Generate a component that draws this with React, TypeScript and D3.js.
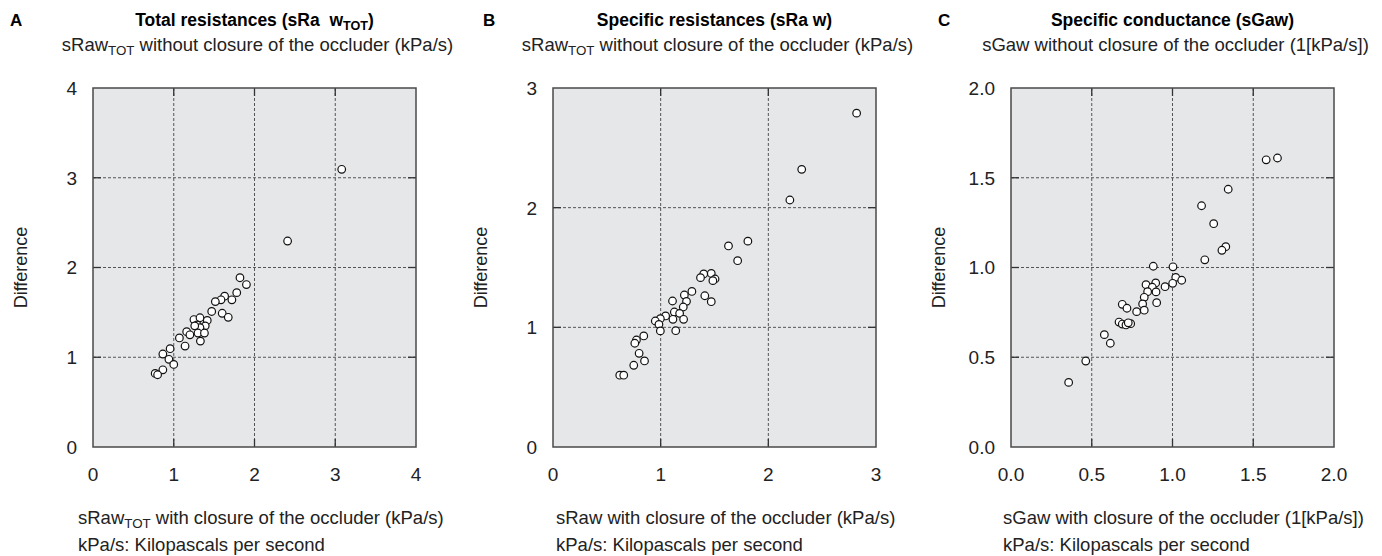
import React from 'react';
import * as d3 from 'd3';

// panel geometry
const TOP = 88;
const W = 323;
const H = 359;
const FONT = '"Liberation Sans", Arial, Helvetica, sans-serif';

// A: total resistances, [x, y]
const totalX = [1.82, 1.90, 1.78, 1.63, 1.585, 1.72, 1.515, 1.47, 1.60, 1.675, 1.25, 1.325, 1.415, 1.29, 1.39, 1.325, 1.26, 1.16, 1.20, 1.30, 1.38, 1.07, 1.33, 1.14, 0.955, 0.865, 0.94, 1.00, 0.865, 0.77, 0.80, 2.41, 3.08];
const totalY = [1.886, 1.81, 1.72, 1.68, 1.64, 1.64, 1.62, 1.51, 1.49, 1.445, 1.42, 1.44, 1.41, 1.36, 1.35, 1.33, 1.35, 1.285, 1.25, 1.27, 1.27, 1.215, 1.18, 1.125, 1.095, 1.036, 0.977, 0.92, 0.86, 0.82, 0.805, 2.295, 3.094];

// B: specific resistances
const specX = [1.81, 1.63, 1.715, 1.47, 1.40, 1.37, 1.505, 1.485, 1.29, 1.22, 1.41, 1.24, 1.11, 1.47, 1.21, 1.127, 1.176, 1.046, 0.997, 0.95, 1.114, 1.213, 0.984, 0.997, 1.14, 0.843, 0.775, 0.76, 0.80, 0.85, 0.75, 0.62, 0.657, 2.20, 2.31, 2.82];
const specY = [1.72, 1.68, 1.557, 1.45, 1.446, 1.415, 1.404, 1.39, 1.30, 1.27, 1.264, 1.217, 1.22, 1.214, 1.17, 1.128, 1.117, 1.095, 1.072, 1.053, 1.067, 1.067, 1.025, 0.97, 0.972, 0.928, 0.894, 0.867, 0.783, 0.719, 0.683, 0.60, 0.60, 2.064, 2.32, 2.79];

// C: specific conductance
const condX = [1.345, 1.18, 1.255, 1.33, 1.306, 1.20, 0.881, 1.003, 1.02, 1.057, 1.001, 0.954, 0.836, 0.896, 0.875, 0.846, 0.898, 0.825, 0.815, 0.902, 0.689, 0.718, 0.778, 0.825, 0.669, 0.689, 0.712, 0.741, 0.726, 0.578, 0.615, 0.463, 0.357, 1.58, 1.65];
const condY = [1.436, 1.344, 1.244, 1.116, 1.096, 1.043, 1.007, 1.004, 0.945, 0.929, 0.912, 0.893, 0.904, 0.914, 0.89, 0.865, 0.864, 0.834, 0.797, 0.804, 0.795, 0.773, 0.754, 0.762, 0.696, 0.685, 0.68, 0.687, 0.692, 0.626, 0.578, 0.479, 0.36, 1.60, 1.61];

const ticksA = [0, 1, 2, 3, 4];
const ticksB = [0, 1, 2, 3];
const ticksC = [0, 0.5, 1, 1.5, 2];

interface PanelProps {
  left: number;
  letter: string;
  letterX: number;
  title: React.ReactNode;
  subtitle: React.ReactNode;
  xlabel: React.ReactNode;
  xlabelX: number;
  xs: number[];
  ys: number[];
  ticks: number[];
  fmt: (v: number) => string;
}

function Panel({ left, letter, letterX, title, subtitle, xlabel, xlabelX, xs, ys, ticks, fmt }: PanelProps) {
  const max = ticks[ticks.length - 1];
  const x = d3.scaleLinear().domain([0, max]).range([left, left + W]);
  const y = d3.scaleLinear().domain([0, max]).range([TOP + H, TOP]);
  const inner = ticks.slice(1, -1);
  const cx = left + W / 2;
  const tk = 8;

  return (
    <g fontFamily={FONT}>
      <text x={letterX} y={26} fontSize={17} fontWeight="bold">{letter}</text>
      <text x={cx} y={26} fontSize={17.5} fontWeight="bold" textAnchor="middle">{title}</text>
      <text x={cx + 3} y={51} fontSize={18.5} textAnchor="middle" fill="#222">{subtitle}</text>

      <rect x={left} y={TOP} width={W} height={H} fill="#e6e7e8" />
      {inner.map((t) => (
        <g key={`g${t}`} stroke="#555" strokeWidth={1} strokeDasharray="3,2">
          <line x1={x(t)} x2={x(t)} y1={TOP} y2={TOP + H} />
          <line x1={left} x2={left + W} y1={y(t)} y2={y(t)} />
        </g>
      ))}
      {inner.map((t) => (
        <g key={`t${t}`} stroke="#333" strokeWidth={1.3}>
          <line x1={x(t)} x2={x(t)} y1={TOP} y2={TOP + tk} />
          <line x1={x(t)} x2={x(t)} y1={TOP + H} y2={TOP + H - tk} />
          <line x1={left} x2={left + tk} y1={y(t)} y2={y(t)} />
          <line x1={left + W} x2={left + W - tk} y1={y(t)} y2={y(t)} />
        </g>
      ))}
      <rect x={left} y={TOP} width={W} height={H} fill="none" stroke="#4a4a4a" strokeWidth={1.5} />

      {xs.map((v, i) => (
        <circle key={i} cx={x(v)} cy={y(ys[i])} r={3.8} fill="#fff" stroke="#111" strokeWidth={1.2} />
      ))}

      {ticks.map((t) => (
        <text key={`xl${t}`} x={x(t)} y={481} fontSize={19} textAnchor="middle" fill="#222">{fmt(t)}</text>
      ))}
      {ticks.map((t) => (
        <text key={`yl${t}`} x={left - 16} y={y(t)} dy="0.36em" fontSize={19} textAnchor="end" fill="#222">{fmt(t)}</text>
      ))}
      <text transform={`translate(${left - 66},${TOP + H / 2}) rotate(-90)`} fontSize={18} textAnchor="middle" fill="#222">Difference</text>

      <text x={xlabelX} y={524} fontSize={18.5} fill="#222">{xlabel}</text>
      <text x={xlabelX} y={551} fontSize={18.5} fill="#222">kPa/s: Kilopascals per second</text>
    </g>
  );
}

const sub = (s: string) => <tspan fontSize="0.72em" dy={4}>{s}</tspan>;
const rest = (s: string) => <tspan dy={-4}>{s}</tspan>;

export default function App() {
  const intFmt = d3.format('d');
  const decFmt = d3.format('.1f');
  return (
    <svg width={1382} height={556} style={{ position: 'absolute', left: 0, top: 0, background: '#fff' }}>
      <Panel
        left={93}
        letter="A"
        letterX={10}
        title={<>Total resistances (sRa{'\u00a0 '}w{sub('TOT')}{rest(')')}</>}
        subtitle={<>sRaw{sub('TOT')}{rest(' without closure of the occluder (kPa/s)')}</>}
        xlabel={<>sRaw{sub('TOT')}{rest(' with closure of the occluder (kPa/s)')}</>}
        xlabelX={78}
        xs={totalX}
        ys={totalY}
        ticks={ticksA}
        fmt={intFmt}
      />
      <Panel
        left={553}
        letter="B"
        letterX={483}
        title={<>Specific resistances (sRa w)</>}
        subtitle={<>sRaw{sub('TOT')}{rest(' without closure of the occluder (kPa/s)')}</>}
        xlabel={<>sRaw with closure of the occluder (kPa/s)</>}
        xlabelX={556}
        xs={specX}
        ys={specY}
        ticks={ticksB}
        fmt={intFmt}
      />
      <Panel
        left={1011}
        letter="C"
        letterX={938}
        title={<>Specific conductance (sGaw)</>}
        subtitle={<>sGaw without closure of the occluder (1[kPa/s])</>}
        xlabel={<>sGaw with closure of the occluder (1[kPa/s])</>}
        xlabelX={1003}
        xs={condX}
        ys={condY}
        ticks={ticksC}
        fmt={decFmt}
      />
    </svg>
  );
}
